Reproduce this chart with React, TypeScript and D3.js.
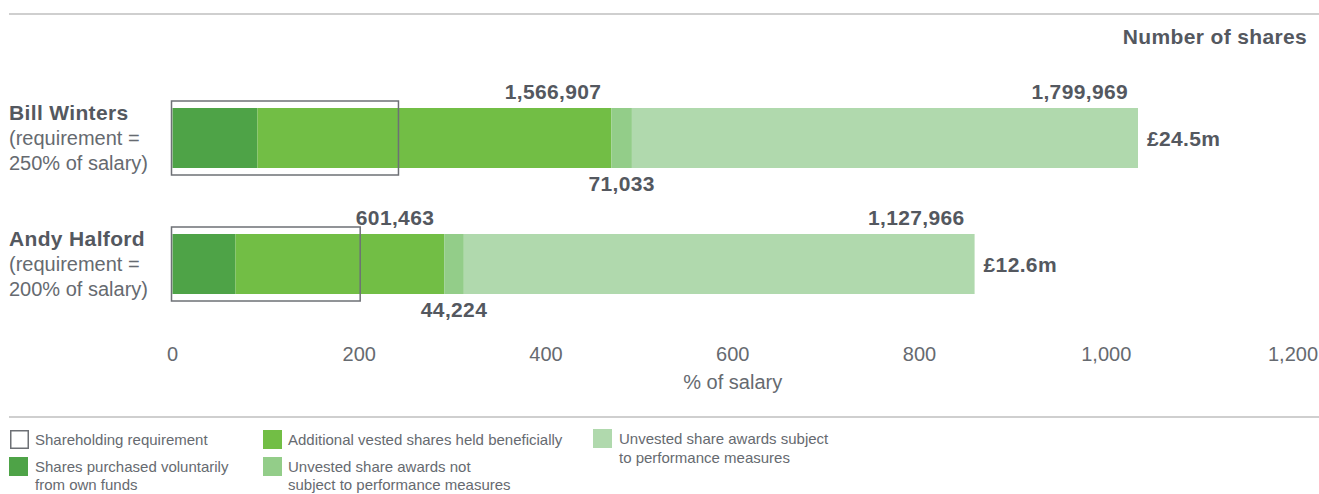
import React from "react";
import * as d3 from "d3";

const executives = ["Bill Winters", "Andy Halford"];
const requirementLines = [
  ["(requirement =", "250% of salary)"],
  ["(requirement =", "200% of salary)"],
];
// values in % of salary
const requirementDrawn = [242, 201];
const voluntary = [91, 67.5];
const additionalVested = [379, 223.5];
const unvestedNotPerf = [22, 21];
const unvestedPerf = [542, 547];

const vestedLabels = ["1,566,907", "601,463"];
const notPerfLabels = ["71,033", "44,224"];
const perfLabels = ["1,799,969", "1,127,966"];
const valueLabels = ["£24.5m", "£12.6m"];

const xTicks = [0, 200, 400, 600, 800, 1000, 1200];

const seriesNames = [
  "Shares purchased voluntarily from own funds",
  "Additional vested shares held beneficially",
  "Unvested share awards not subject to performance measures",
  "Unvested share awards subject to performance measures",
];
const colors = ["#4ea347", "#72be45", "#93cd89", "#b0d9ad"];

const W = 1319;
const H = 494;
const BOLD = "#54585f";
const REG = "#666a70";
const FONT = "'Liberation Sans', Arial, Helvetica, sans-serif";
const LS = 0.35;

export default function App() {
  const x = d3.scaleLinear().domain([0, 1200]).range([172.5, 1293]);
  const yc = d3.scalePoint<string>().domain(executives).range([138, 264]);
  const barH = 60;
  const fmt = d3.format(",");

  const seriesData = [voluntary, additionalVested, unvestedNotPerf, unvestedPerf];

  return (
    <svg
      width={W}
      height={H}
      style={{ position: "absolute", left: 0, top: 0, background: "#fff" }}
      fontFamily={FONT}
    >
      <line x1={9} x2={W} y1={14} y2={14} stroke="#cfcfcf" strokeWidth={2} />
      <text x={1307} y={44} textAnchor="end" fontSize={21} fontWeight="bold" fill={BOLD} letterSpacing={LS}>
        Number of shares
      </text>

      {executives.map((name, i) => {
        const c = yc(name)!;
        const top = c - barH / 2;
        let cum = 0;
        const segs = seriesData.map((s, k) => {
          const x0 = x(cum);
          cum += s[i];
          const x1 = x(cum);
          return { x0, x1, k };
        });
        const midEnd = segs[1].x1;
        const npMid = (segs[2].x0 + segs[2].x1) / 2;
        const end = segs[3].x1;
        return (
          <g key={name}>
            <text x={9} y={c - 18} fontSize={21} fontWeight="bold" fill={BOLD} letterSpacing={LS}>
              {name}
            </text>
            {requirementLines[i].map((t, j) => (
              <text key={j} x={9} y={c + 7 + j * 25} fontSize={20} fill={REG}>
                {t}
              </text>
            ))}
            {segs.map((s) => (
              <rect
                key={s.k}
                x={s.x0}
                y={top}
                width={s.x1 - s.x0}
                height={barH}
                fill={colors[s.k]}
              />
            ))}
            <rect
              x={x(0) - 1}
              y={top - 7}
              width={x(requirementDrawn[i]) - x(0) + 1}
              height={barH + 14}
              fill="none"
              stroke="#6d7075"
              strokeWidth={1.5}
            />
            <text x={midEnd - 10} y={top - 9} textAnchor="end" fontSize={21} fontWeight="bold" fill={BOLD} letterSpacing={LS}>
              {vestedLabels[i]}
            </text>
            <text x={npMid} y={top + barH + 23} textAnchor="middle" fontSize={21} fontWeight="bold" fill={BOLD} letterSpacing={LS}>
              {notPerfLabels[i]}
            </text>
            <text x={end - 10} y={top - 9} textAnchor="end" fontSize={21} fontWeight="bold" fill={BOLD} letterSpacing={LS}>
              {perfLabels[i]}
            </text>
            <text x={end + 9} y={c + 8} fontSize={21} fontWeight="bold" fill={BOLD} letterSpacing={LS}>
              {valueLabels[i]}
            </text>
          </g>
        );
      })}

      {xTicks.map((t) => (
        <text key={t} x={x(t)} y={361} textAnchor="middle" fontSize={20} fill={REG}>
          {fmt(t)}
        </text>
      ))}
      <text x={x(600)} y={389} textAnchor="middle" fontSize={20} fill={REG}>
        % of salary
      </text>

      <line x1={9} x2={W} y1={417} y2={417} stroke="#cfcfcf" strokeWidth={2} />

      {/* legend */}
      <g fontSize={15} fill={REG}>
        <rect x={10.75} y={430.75} width={17.5} height={17.5} fill="#fff" stroke="#6d7075" strokeWidth={1.5} />
        <text x={35} y={445}>Shareholding requirement</text>

        <rect x={9} y={457} width={19} height={19} fill={colors[0]} />
        <text x={35} y={472}>Shares purchased voluntarily</text>
        <text x={35} y={490}>from own funds</text>

        <rect x={263} y={430} width={19} height={19} fill={colors[1]} />
        <text x={288} y={445}>{seriesNames[1]}</text>

        <rect x={263} y={457} width={19} height={19} fill={colors[2]} />
        <text x={288} y={472}>Unvested share awards not</text>
        <text x={288} y={490}>subject to performance measures</text>

        <rect x={593} y={429} width={19} height={19} fill={colors[3]} />
        <text x={619} y={444}>Unvested share awards subject</text>
        <text x={619} y={463}>to performance measures</text>
      </g>
    </svg>
  );
}
